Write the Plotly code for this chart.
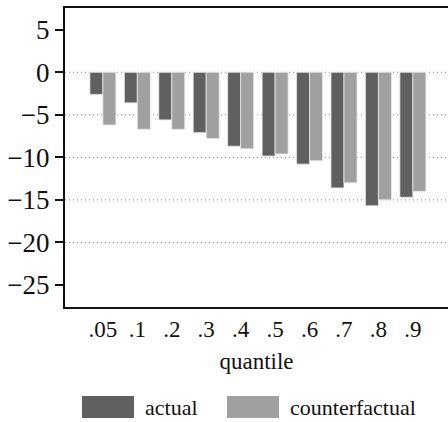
import plotly.graph_objects as go

quantiles = [".05", ".1", ".2", ".3", ".4", ".5", ".6", ".7", ".8", ".9"]
actual = [-2.6, -3.6, -5.6, -7.1, -8.7, -9.85, -10.8, -13.6, -15.7, -14.7]
counterfactual = [-6.2, -6.7, -6.7, -7.8, -9.0, -9.6, -10.4, -13.0, -15.0, -14.0]
y_ticks = [5, 0, -5, -10, -15, -20, -25]
grid_vals = [0, -5, -10, -15, -20]

C_ACT = "#606060"
C_CF = "#a0a0a0"
FONT = "Liberation Serif"

x = list(range(len(quantiles)))

fig = go.Figure()
fig.add_trace(go.Bar(x=x, y=actual, name="actual", marker=dict(color=C_ACT, line=dict(color="#e8e8e8", width=0.8)), showlegend=False))
fig.add_trace(go.Bar(x=x, y=counterfactual, name="counterfactual", marker=dict(color=C_CF, line=dict(color="#e8e8e8", width=0.8)), showlegend=False))

shapes = []
for g in grid_vals:
    shapes.append(dict(type="line", xref="paper", yref="y", x0=0, x1=1, y0=g, y1=g,
                       line=dict(color="#8a8a8a", width=1, dash="1px,3px"), layer="below"))

# custom legend
leg = [("actual", C_ACT, 82, 134, 143), ("counterfactual", C_CF, 227, 279, 288)]
annotations = []
W, H = 448, 422
ml, mr, mt, mb = 65, 0, 8, 115
pw = W - ml - mr
ph = H - mt - mb
def px2paper_x(px):
    return (px - ml) / pw
def py2paper_y(py):
    return (H - mb - py) / ph
for name, col, x0, x1, tx in leg:
    shapes.append(dict(type="rect", xref="paper", yref="paper",
                       x0=px2paper_x(x0), x1=px2paper_x(x1),
                       y0=py2paper_y(418), y1=py2paper_y(396),
                       fillcolor=col, line=dict(width=0)))
    annotations.append(dict(text=name, xref="paper", yref="paper", x=px2paper_x(tx), y=py2paper_y(407),
                            xanchor="left", yanchor="middle", showarrow=False,
                            font=dict(family=FONT, size=22, color="#111")))

fig.update_layout(
    width=W, height=H,
    margin=dict(l=ml, r=mr, t=mt, b=mb),
    paper_bgcolor="white", plot_bgcolor="white",
    barmode="group", bargap=0.245, bargroupgap=0,
    font=dict(family=FONT, color="#111"),
    shapes=shapes, annotations=annotations,
    xaxis=dict(tickmode="array", tickvals=x, ticktext=quantiles, range=[-1.1, 10.02],
               showgrid=False, zeroline=False, showline=True, linecolor="#111", linewidth=2,
               mirror=True, ticks="", tickfont=dict(size=23),
               title=dict(text="quantile", font=dict(size=23), standoff=12)),
    yaxis=dict(tickmode="array", tickvals=y_ticks, range=[-27.6, 7.56],
               showgrid=False, zeroline=False, showline=True, linecolor="#111", linewidth=2,
               ticks="outside", ticklen=8, tickwidth=1.5, tickcolor="#111",
               tickfont=dict(size=27)),
)

fig.write_html("out.html", config={"displayModeBar": False},
               post_script="document.body.style.margin='0';document.body.style.overflow='hidden';")
